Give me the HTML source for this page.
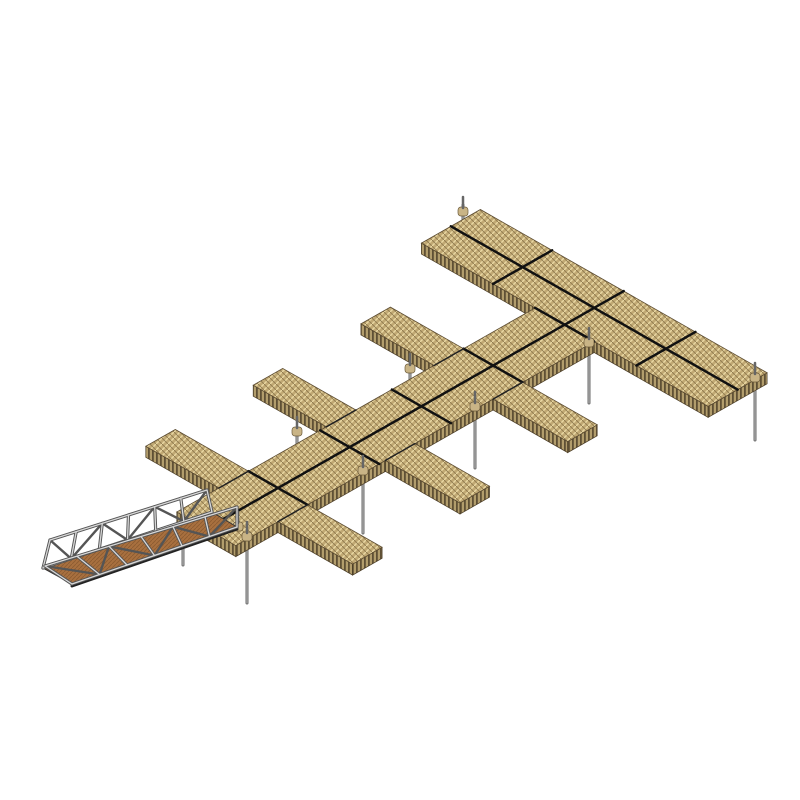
<!DOCTYPE html>
<html><head><meta charset="utf-8"><style>html,body{margin:0;padding:0;background:#fff}svg{display:block}</style></head>
<body>
<svg id="s" width="800" height="800" viewBox="0 0 800 800" xmlns="http://www.w3.org/2000/svg">
<defs>
<pattern id="tex" width="6" height="6" patternUnits="userSpaceOnUse">
<rect width="6" height="6" fill="#c1a974"/>
<path d="M0 6L6 0M-1 1L1 -1M5 7L7 5" stroke="#e8d6a2" stroke-width="1.5"/>
<path d="M0 0L6 6" stroke="#8f7a4e" stroke-width="0.9"/>
</pattern>
<pattern id="side" width="4" height="20" patternUnits="userSpaceOnUse">
<rect width="4" height="20" fill="#b29d6c"/>
<rect width="1.8" height="20" fill="#5f5035"/>
</pattern>
<pattern id="deck" width="4" height="4" patternUnits="userSpaceOnUse">
<rect width="4" height="4" fill="#a8703f"/>
<path d="M0 4L4 0" stroke="#8c5a30" stroke-width="0.8"/>
</pattern>
</defs>
<g id="g"></g>
</svg>
<script>
var O=[278,488],a=[29.5,16.8],b=[29.5,-16.8],H=11,L=2.43;
function P(p,q,z){z=z||0;return [O[0]+p*a[0]+q*b[0],O[1]+p*a[1]+q*b[1]+z];}
function s(pt){return pt[0].toFixed(1)+","+pt[1].toFixed(1);}
var out="";
function poly(pts,fill,stroke,sw){out+='<polygon points="'+pts.map(s).join(" ")+'" fill="'+fill+'" stroke="'+(stroke||"none")+'" stroke-width="'+(sw||0)+'"/>';}
function line(A,B,c,w){out+='<line x1="'+A[0].toFixed(1)+'" y1="'+A[1].toFixed(1)+'" x2="'+B[0].toFixed(1)+'" y2="'+B[1].toFixed(1)+'" stroke="'+c+'" stroke-width="'+w+'" stroke-linecap="round"/>';}
function box(p0,p1,q0,q1){
 poly([P(p0,q0),P(p1,q0),P(p1,q0,H),P(p0,q0,H)],"url(#side)","#4a3c25",0.7);
 poly([P(p1,q0),P(p1,q1),P(p1,q1,H),P(p1,q0,H)],"url(#side)","#4a3c25",0.7);
 poly([P(p0,q0),P(p1,q0),P(p1,q1),P(p0,q1)],"url(#tex)","#5a4a30",0.8);
}
var piles=[[247,537,603],[183,510,565],[363,470,533],[475,407,468],[589,342,403],[755,377,440],[297,428,445],[463,205,225],[410,365,385]];
piles.forEach(function(k){line([k[0],k[1]],[k[0],k[2]],"#6a6a6a",3);line([k[0],k[1]],[k[0],k[2]],"#b0b0b0",1.2);});
var T0=4*L,T1=4*L+2;
box(-2*L,2*L,T0,T1);
line(P(-2*L,T0+1),P(2*L,T0+1),"#111",2.5);
[-L,0,L].forEach(function(p){line(P(p,T0),P(p,T1),"#111",2.5);});
var fq=[[-1,0],[2.64,3.64],[6.29,7.29]];
fq.forEach(function(f){box(-1-L-0.05,-1,f[0],f[1]);});
box(-1,1,-L,T0);
line(P(0,-L),P(0,T0),"#111",2.5);
[0,L,2*L,3*L,4*L].forEach(function(q){line(P(-1,q),P(1,q),"#111",2.5);});
fq.forEach(function(f){box(1,1+L+0.1,f[0],f[1]);line(P(1,f[0]),P(1,f[1]),"#222",1.5);line(P(-1,f[0]),P(-1,f[1]),"#222",1.5);});
[[247,530],[363,464],[475,400],[589,336],[755,371],[297,425],[463,205],[410,362],[238,520]].forEach(function(k){
 out+='<rect x="'+(k[0]-5)+'" y="'+(k[1]+2)+'" width="10" height="9" rx="3" fill="#c9b486" stroke="#6b5a3a" stroke-width="0.7"/>';
 line([k[0],k[1]-8],[k[0],k[1]+3],"#666",2.5);
});
poly([[43,568],[72,584],[237,527],[212,512]],"url(#deck)","#333",1);
line([72,586],[237,529],"#222",3);
function truss(b0,b1,t0,t1,n){
 var c="#555",w=3.2;
 line(b0,b1,c,w);line(t0,t1,c,w);
 for(var i=0;i<=n;i++){var f=i/n;var B=[b0[0]+(b1[0]-b0[0])*f,b0[1]+(b1[1]-b0[1])*f];var Tt=[t0[0]+(t1[0]-t0[0])*f,t0[1]+(t1[1]-t0[1])*f];line(B,Tt,c,w);
  if(i<n){var f2=(i+1)/n;var B2=[b0[0]+(b1[0]-b0[0])*f2,b0[1]+(b1[1]-b0[1])*f2];var T2=[t0[0]+(t1[0]-t0[0])*f2,t0[1]+(t1[1]-t0[1])*f2];
   if(i%2==0)line(Tt,B2,c,2.4);else line(B,T2,c,2.4);}}
 c="#d8d8d8";w=1.3;
 line(b0,b1,c,w);line(t0,t1,c,w);
 for(var i=0;i<=n;i++){var f=i/n;line([b0[0]+(b1[0]-b0[0])*f,b0[1]+(b1[1]-b0[1])*f],[t0[0]+(t1[0]-t0[0])*f,t0[1]+(t1[1]-t0[1])*f],c,w);}
}
truss([43,568],[212,512],[50,540],[207,490],6);
truss([72,584],[237,527],[45,566],[237,507],6);
document.getElementById("g").innerHTML=out;
</script>
</body></html>
